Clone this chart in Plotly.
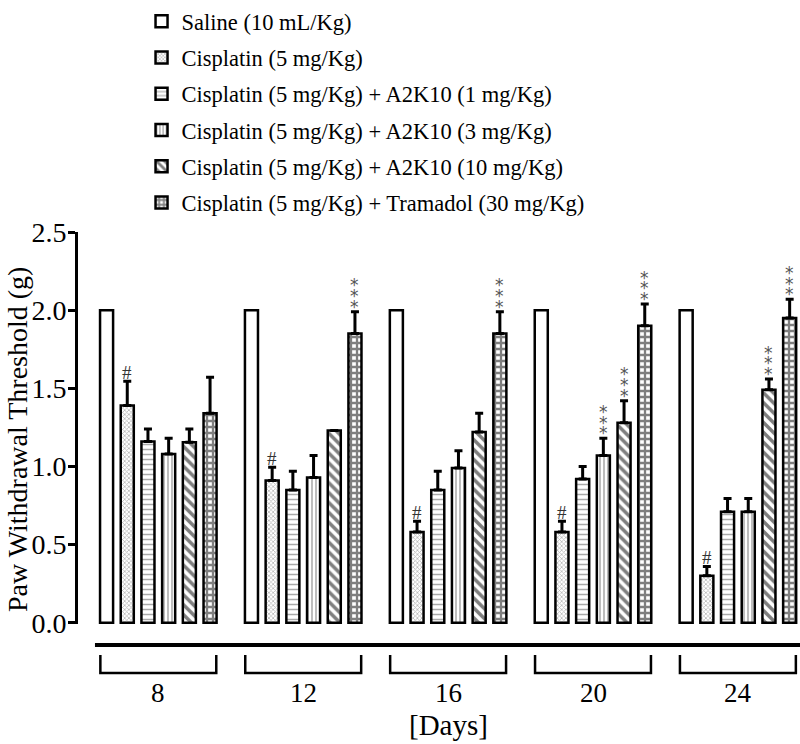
import plotly.graph_objects as go

# ---------------- data ----------------
days = ["8", "12", "16", "20", "24"]
series_names = [
    "Saline (10 mL/Kg)",
    "Cisplatin (5 mg/Kg)",
    "Cisplatin (5 mg/Kg) + A2K10 (1 mg/Kg)",
    "Cisplatin (5 mg/Kg) + A2K10 (3 mg/Kg)",
    "Cisplatin (5 mg/Kg) + A2K10 (10 mg/Kg)",
    "Cisplatin (5 mg/Kg) + Tramadol (30 mg/Kg)",
]
saline = [2.0, 2.0, 2.0, 2.0, 2.0]
saline_err = [0.0, 0.0, 0.0, 0.0, 0.0]
cisplatin = [1.39, 0.91, 0.58, 0.58, 0.30]
cisplatin_err = [0.155, 0.085, 0.07, 0.07, 0.06]
a2k10_1 = [1.16, 0.85, 0.85, 0.92, 0.71]
a2k10_1_err = [0.08, 0.12, 0.12, 0.08, 0.085]
a2k10_3 = [1.08, 0.93, 0.99, 1.07, 0.71]
a2k10_3_err = [0.10, 0.14, 0.11, 0.11, 0.085]
a2k10_10 = [1.155, 1.23, 1.22, 1.28, 1.49]
a2k10_10_err = [0.085, 0.0, 0.12, 0.14, 0.07]
tramadol = [1.34, 1.85, 1.85, 1.90, 1.95]
tramadol_err = [0.23, 0.14, 0.14, 0.14, 0.12]

values = [saline, cisplatin, a2k10_1, a2k10_3, a2k10_10, tramadol]
errors = [saline_err, cisplatin_err, a2k10_1_err, a2k10_3_err, a2k10_10_err, tramadol_err]

# significance marks: (series index, day index)
hash_marks = [(1, 0), (1, 1), (1, 2), (1, 3), (1, 4)]
star_marks = [(5, 1), (5, 2), (3, 3), (4, 3), (5, 3), (4, 4), (5, 4)]

y_ticks = [0.0, 0.5, 1.0, 1.5, 2.0, 2.5]

# ---------------- styling ----------------
FONT = "Liberation Serif, Times New Roman, Tinos, DejaVu Serif, serif"
GROUP_STEP = len(series_names) + 1
BAR_W = 0.63

patterns = [
    dict(shape=""),
    dict(shape="x", fgcolor="#6e6e6e", bgcolor="white", size=3, solidity=0.45),
    dict(shape="-", fgcolor="#555555", bgcolor="white", size=5, solidity=0.3),
    dict(shape="|", fgcolor="#222222", bgcolor="white", size=4, solidity=0.3),
    dict(shape="\\", fgcolor="black", bgcolor="white", size=7, solidity=0.5),
    dict(shape="+", fgcolor="black", bgcolor="white", size=6, solidity=0.62),
]
colors = ["white", "white", "white", "white", "white", "white"]

W, H = 800, 744
ML, MR, MT, MB = 78, 0, 232, 120
PLOT_H = H - MT - MB


def py(pix):
    """convert pixel row to paper y"""
    return (H - MB - pix) / PLOT_H


def xpos(s, d):
    return d * GROUP_STEP + s


fig = go.Figure()
for s, name in enumerate(series_names):
    xs = [xpos(s, d) for d in range(len(days))]
    fig.add_trace(go.Bar(
        x=xs, y=values[s], name=name, width=BAR_W,
        legendgroup=f"g{s}",
        marker=dict(color=colors[s], line=dict(color="black", width=2.5),
                    pattern=patterns[s]),
        error_y=dict(type="data", symmetric=False, array=errors[s],
                     arrayminus=[0] * len(days), color="black",
                     thickness=3, width=4, visible=(s != 0)),
        hoverinfo="skip",
    ))

annotations = []
for s, d in hash_marks:
    annotations.append(dict(
        x=xpos(s, d), y=values[s][d] + errors[s][d], xref="x", yref="y",
        text="#", showarrow=False, yanchor="bottom", yshift=-4,
        font=dict(family=FONT, size=19, color="#333333")))
for s, d in star_marks:
    for k in range(3):
        annotations.append(dict(
            x=xpos(s, d), y=values[s][d] + errors[s][d], xref="x", yref="y",
            text="*", showarrow=False, yanchor="bottom", yshift=-7 + 10.7 * k,
            font=dict(family="DejaVu Sans", size=17, color="#555555")))

# day labels and axis label
for d, lab in enumerate(days):
    annotations.append(dict(
        x=d * GROUP_STEP + 2.5, y=py(693), xref="x", yref="paper",
        text=lab, showarrow=False, yanchor="middle",
        font=dict(family=FONT, size=27, color="black")))
annotations.append(dict(
    x=(len(days) - 1) * GROUP_STEP / 2 + 2.5, y=py(725), xref="x", yref="paper",
    text="[Days]", showarrow=False, yanchor="middle",
    font=dict(family=FONT, size=29, color="black")))
annotations.append(dict(
    x=(17 - ML) / (W - ML - MR), y=py(440), xref="paper", yref="paper",
    text="Paw Withdrawal Threshold (g)", showarrow=False, textangle=-90,
    xanchor="center", yanchor="middle",
    font=dict(family=FONT, size=28, color="black")))

shapes = []
# long horizontal line under the bars
shapes.append(dict(type="line", xref="x", yref="paper",
                   x0=-0.56, x1=(len(days) - 1) * GROUP_STEP + 5.6,
                   y0=py(645), y1=py(645), line=dict(color="black", width=4)))
# brackets
for d in range(len(days)):
    c = d * GROUP_STEP + 2.5
    x0, x1 = c - 2.8, c + 2.8
    shapes.append(dict(type="path", xref="x", yref="paper",
                       path=f"M {x0},{py(655)} L {x0},{py(673)} L {x1},{py(673)} L {x1},{py(655)}",
                       line=dict(color="black", width=2.5)))

fig.update_layout(
    width=W, height=H,
    margin=dict(l=ML, r=MR, t=MT, b=MB, autoexpand=False),
    paper_bgcolor="white", plot_bgcolor="white",
    barmode="overlay",
    showlegend=True,
    legend=dict(x=0.088, y=py(0), xanchor="left", yanchor="top",
                font=dict(family=FONT, size=22.5, color="black"),
                tracegroupgap=4, bgcolor="rgba(0,0,0,0)"),
    xaxis=dict(visible=False, range=[-1.38, (len(days) - 1) * GROUP_STEP + 5.5]),
    yaxis=dict(range=[-0.008, 2.5], tickvals=y_ticks, tickformat=".1f",
               showline=True, linewidth=3, linecolor="black",
               ticks="outside", ticklen=7, tickwidth=3, tickcolor="black",
               ticklabelstandoff=-4,
               showgrid=False, zeroline=False,
               tickfont=dict(family=FONT, size=28, color="black")),
    annotations=annotations,
    shapes=shapes,
)

fig.write_html(
    "out.html",
    config={"displayModeBar": False},
    post_script="document.body.style.margin='0';document.body.style.overflow='hidden';",
)
